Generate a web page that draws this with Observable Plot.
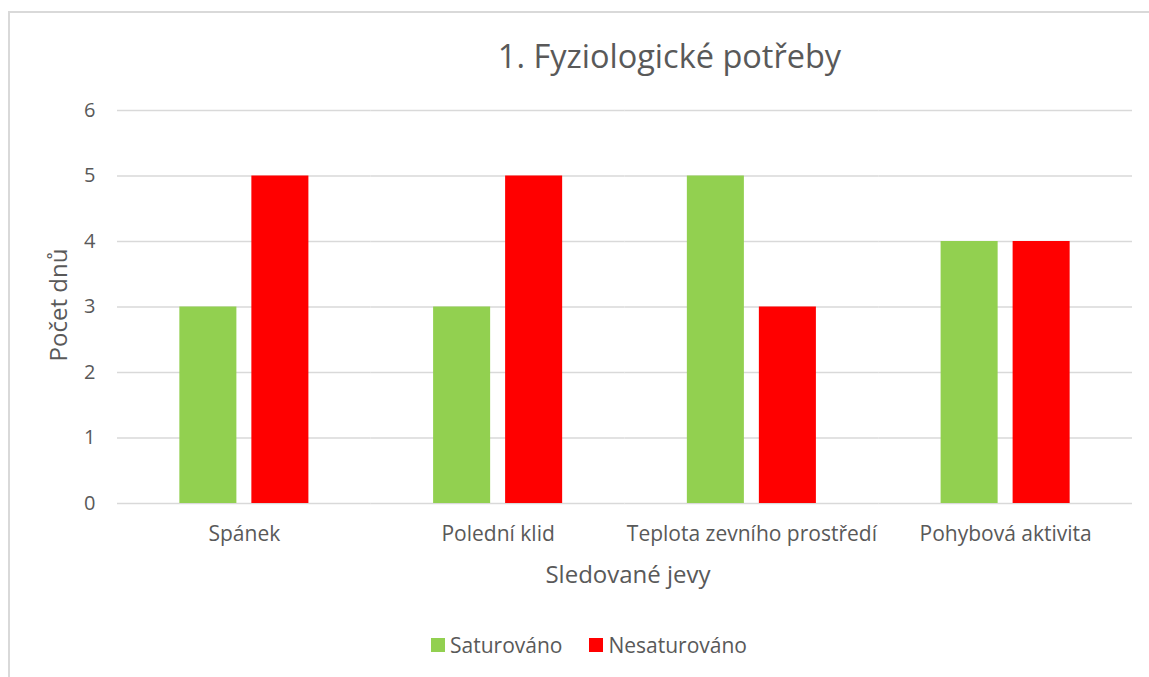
<!DOCTYPE html>
<html>
<head>
<meta charset="utf-8">
<script src="https://cdn.jsdelivr.net/npm/d3@7"></script>
<script src="https://cdn.jsdelivr.net/npm/@observablehq/plot@0.6"></script>
<style>
  html, body { margin: 0; padding: 0; background: #fff; }
  #wrap { position: relative; width: 1149px; height: 677px; overflow: hidden; font-family: "Open Sans", sans-serif; color: #595959; }
  #border { position: absolute; left: 8px; top: 11px; width: 1200px; height: 720px; border: 2px solid #d9d9d9; box-sizing: border-box; }
  #title { position: absolute; left: 0; width: 1149px; top: 34px; text-align: center; font-size: 32.5px; line-height: 44px; padding-left: 190px; box-sizing: border-box; }
  #ylabel { position: absolute; left: 57px; top: 305px; transform: translate(-50%, -50%) rotate(-90deg); font-size: 24px; white-space: nowrap; }
  #xlabel { position: absolute; left: 0; width: 1149px; top: 558px; text-align: center; font-size: 24px; line-height: 32px; padding-left: 107px; box-sizing: border-box; }
  #legend { position: absolute; left: 0; width: 1149px; top: 630px; display: flex; justify-content: center; font-size: 21px; line-height: 30px; padding-left: 29px; box-sizing: border-box; }
  .item { display: flex; align-items: center; margin: 0 13.5px; }
  .sw { width: 14px; height: 14px; margin-right: 5px; }
  #chart { position: absolute; left: 0; top: 90px; }
</style>
</head>
<body>
<div id="wrap">
  <div id="border"></div>
  <div id="title"></div>
  <div id="ylabel"></div>
  <div id="xlabel"></div>
  <div id="legend"></div>
  <div id="chart"></div>
</div>
<script>
const titleText = "1. Fyziologické potřeby";
const yLabelText = "Počet dnů";
const xLabelText = "Sledované jevy";
const categories = ["Spánek", "Polední klid", "Teplota zevního prostředí", "Pohybová aktivita"];
const series = ["Saturováno", "Nesaturováno"];
const saturovano = [3, 3, 5, 4];
const nesaturovano = [5, 5, 3, 4];
const yTicks = [0, 1, 2, 3, 4, 5, 6];
const colors = ["#92D050", "#FF0000"];

const data = [];
categories.forEach((c, i) => {
  data.push({cat: c, series: series[0], value: saturovano[i]});
  data.push({cat: c, series: series[1], value: nesaturovano[i]});
});

document.getElementById("title").textContent = titleText;
document.getElementById("ylabel").textContent = yLabelText;
document.getElementById("xlabel").textContent = xLabelText;
const legend = document.getElementById("legend");
series.forEach((s, i) => {
  const item = document.createElement("div");
  item.className = "item";
  const sw = document.createElement("div");
  sw.className = "sw";
  sw.style.background = colors[i];
  const t = document.createElement("span");
  t.textContent = s;
  item.appendChild(sw);
  item.appendChild(t);
  legend.appendChild(item);
});

const chart = Plot.plot({
  width: 1149,
  height: 510,
  marginLeft: 117,
  marginRight: 17,
  marginTop: 20,
  marginBottom: 97,
  style: {fontFamily: "Open Sans, sans-serif", fontSize: "21px", color: "#595959", background: "transparent"},
  fx: {domain: categories, padding: 0, round: false, label: null, tickSize: 0, tickPadding: 23},
  x: {domain: series, paddingInner: 0.208, paddingOuter: 0.866, round: false, axis: null},
  y: {domain: [0, 6]},
  color: {domain: series, range: colors},
  marks: [
    Plot.gridY(yTicks, {stroke: "#d9d9d9", strokeOpacity: 1, strokeWidth: 1.5}),
    Plot.axisY(yTicks, {tickSize: 0, tickPadding: 22, label: null, tickFormat: d => String(d), fill: "#595959", fontSize: 20}),
    Plot.barY(data, {fx: "cat", x: "series", y: "value", fill: "series"})
  ]
});
document.getElementById("chart").appendChild(chart);
</script>
</body>
</html>
